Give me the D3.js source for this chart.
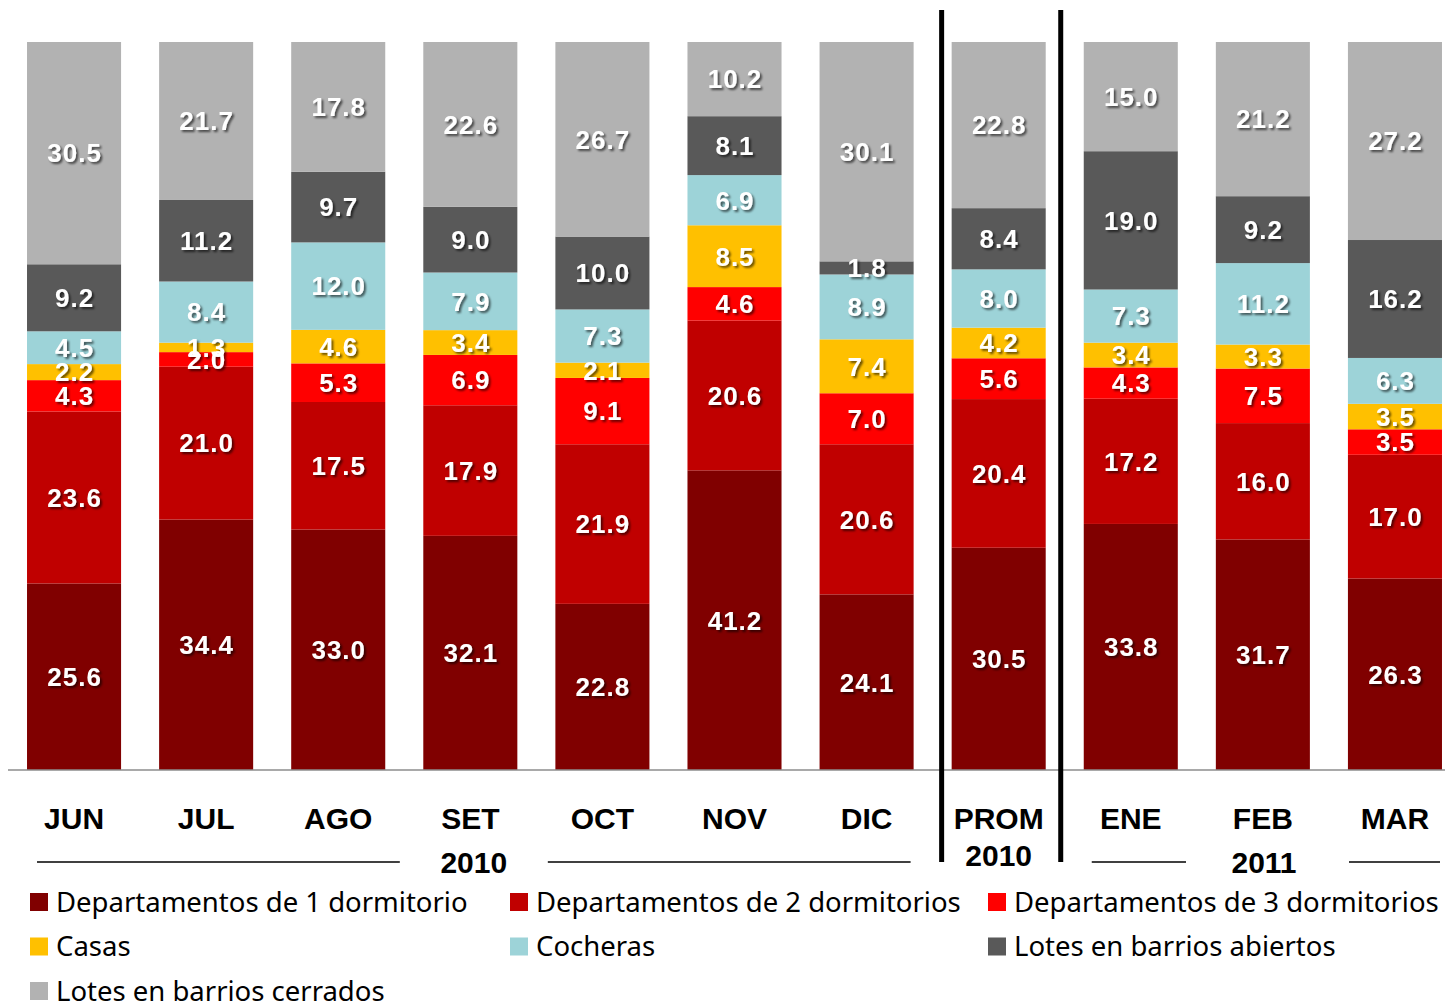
<!DOCTYPE html>
<html>
<head>
<meta charset="utf-8">
<script src="https://cdn.jsdelivr.net/npm/d3@7"></script>
<style>
  body { margin: 0; background: #fff; }
  svg { display: block; }
</style>
</head>
<body>
<script>
// categorías del eje
var categorias = ["JUN", "JUL", "AGO", "SET", "OCT", "NOV", "DIC", "PROM", "ENE", "FEB", "MAR"];
// segunda línea de la etiqueta (solo PROM)
var subEtiquetas = ["", "", "", "", "", "", "", "2010", "", "", ""];

// series (de abajo hacia arriba)
var series = [
  "Departamentos de 1 dormitorio",
  "Departamentos de 2 dormitorios",
  "Departamentos de 3 dormitorios",
  "Casas",
  "Cocheras",
  "Lotes en barrios abiertos",
  "Lotes en barrios cerrados"
];
var colores = ["#800000", "#C00000", "#FF0000", "#FFC000", "#9DD3D8", "#595959", "#B2B2B2"];

// valores en % por serie, un valor por categoría
var dep1     = [25.6, 34.4, 33.0, 32.1, 22.8, 41.2, 24.1, 30.5, 33.8, 31.7, 26.3];
var dep2     = [23.6, 21.0, 17.5, 17.9, 21.9, 20.6, 20.6, 20.4, 17.2, 16.0, 17.0];
var dep3     = [ 4.3,  2.0,  5.3,  6.9,  9.1,  4.6,  7.0,  5.6,  4.3,  7.5,  3.5];
var casas    = [ 2.2,  1.3,  4.6,  3.4,  2.1,  8.5,  7.4,  4.2,  3.4,  3.3,  3.5];
var cocheras = [ 4.5,  8.4, 12.0,  7.9,  7.3,  6.9,  8.9,  8.0,  7.3, 11.2,  6.3];
var abiertos = [ 9.2, 11.2,  9.7,  9.0, 10.0,  8.1,  1.8,  8.4, 19.0,  9.2, 16.2];
var cerrados = [30.5, 21.7, 17.8, 22.6, 26.7, 10.2, 30.1, 22.8, 15.0, 21.2, 27.2];
var valores = [dep1, dep2, dep3, casas, cocheras, abiertos, cerrados];

// grupos de años debajo del eje
var grupos = [
  { anio: "2010", desde: "JUN", hasta: "DIC" },
  { anio: "2011", desde: "ENE", hasta: "MAR" }
];
// separadores verticales a los lados de PROM
var separadores = ["PROM"];

var W = 1445, H = 1003;
var baseY = 770, topeY = 42;

var svg = d3.select("body").append("svg")
  .attr("width", W)
  .attr("height", H);

// sombra de los números
var defs = svg.append("defs");
var f = defs.append("filter").attr("id", "sombra")
  .attr("x", "-20%").attr("y", "-20%").attr("width", "150%").attr("height", "150%");
f.append("feDropShadow")
  .attr("dx", 2).attr("dy", 2).attr("stdDeviation", 1)
  .attr("flood-color", "#000").attr("flood-opacity", 0.6);

var x = d3.scaleBand()
  .domain(categorias)
  .range([8, 1461])
  .paddingInner(0.288)
  .paddingOuter(0.144);

var y = d3.scaleLinear()
  .domain([0, 100])
  .range([baseY, topeY]);

// filas para d3.stack (normalizado a 100%)
var filas = categorias.map(function(c, i){
  var fila = { cat: c };
  series.forEach(function(s, j){ fila[s] = valores[j][i]; });
  return fila;
});
var pila = d3.stack().keys(series).offset(d3.stackOffsetExpand)(filas);

var capas = svg.append("g").selectAll("g")
  .data(pila)
  .enter().append("g")
  .attr("fill", function(d, i){ return colores[i]; });

capas.selectAll("rect")
  .data(function(d){ return d; })
  .enter().append("rect")
  .attr("x", function(d){ return x(d.data.cat); })
  .attr("width", x.bandwidth())
  .attr("y", function(d){ return y(d[1] * 100); })
  .attr("height", function(d){ return y(d[0] * 100) - y(d[1] * 100); });

// etiquetas de valores
var etiquetas = svg.append("g")
  .attr("font-family", "Liberation Sans, Arial, sans-serif")
  .attr("font-weight", "bold")
  .attr("font-size", 26)
  .attr("letter-spacing", 1)
  .attr("fill", "#fff")
  .attr("text-anchor", "middle")
  .attr("filter", "url(#sombra)");

pila.forEach(function(capa, j){
  capa.forEach(function(d, i){
    etiquetas.append("text")
      .attr("x", x(d.data.cat) + x.bandwidth() / 2 + 0.5)
      .attr("y", (y(d[0] * 100) + y(d[1] * 100)) / 2)
      .attr("dy", "0.36em")
      .text(d3.format(".1f")(valores[j][i]));
  });
});

// línea base
svg.append("line")
  .attr("x1", 8).attr("x2", W)
  .attr("y1", baseY).attr("y2", baseY)
  .attr("stroke", "#8c8c8c")
  .attr("stroke-width", 1.5);

// etiquetas del eje
var ejeTxt = svg.append("g")
  .attr("font-family", "Liberation Sans, Arial, sans-serif")
  .attr("font-weight", "bold")
  .attr("font-size", 30)
  .attr("fill", "#000")
  .attr("text-anchor", "middle");

categorias.forEach(function(c, i){
  var cx = x(c) + x.bandwidth() / 2;
  ejeTxt.append("text").attr("x", cx).attr("y", 829).text(c);
  if(subEtiquetas[i]){
    ejeTxt.append("text").attr("x", cx).attr("y", 866).text(subEtiquetas[i]);
  }
});

// años con líneas a los lados
grupos.forEach(function(g){
  var x0 = x(g.desde) + 10;
  var x1 = x(g.hasta) + x.bandwidth() - 3;
  var cx = (x0 + x1) / 2;
  var medio = 74;
  if(g.anio === "2011"){ x0 = x(g.desde) + 8; cx = 1264; medio = 78; x1 = W - 5; }
  ejeTxt.append("text").attr("x", cx).attr("y", 873).text(g.anio);
  svg.append("line")
    .attr("x1", x0).attr("x2", cx - medio)
    .attr("y1", 862).attr("y2", 862)
    .attr("stroke", "#000").attr("stroke-width", 1.5);
  svg.append("line")
    .attr("x1", cx + medio + (g.anio === "2011" ? 7 : 0)).attr("x2", x1)
    .attr("y1", 862).attr("y2", 862)
    .attr("stroke", "#000").attr("stroke-width", 1.5);
});

// separadores verticales (algo desplazados hacia PROM, como en el original)
separadores.forEach(function(c){
  var paso = x.step();
  var izq = x(c) - (paso - x.bandwidth()) / 2 + 9;
  var der = x(c) - (paso - x.bandwidth()) / 2 + paso - 4;
  [izq, der].forEach(function(px){
    svg.append("line")
      .attr("x1", px).attr("x2", px)
      .attr("y1", 10).attr("y2", 862)
      .attr("stroke", "#000").attr("stroke-width", 5);
  });
});

// leyenda
var leyenda = svg.append("g")
  .attr("font-family", "Noto Sans, Open Sans, sans-serif")
  .attr("font-size", 27.5)
  .attr("fill", "#000");

var colX = [30, 510, 988];
series.forEach(function(s, i){
  var lx = colX[i % 3];
  var ly = 902 + Math.floor(i / 3) * 44.5;
  leyenda.append("rect")
    .attr("x", lx).attr("y", ly - 9)
    .attr("width", 18).attr("height", 18)
    .attr("fill", colores[i]);
  leyenda.append("text")
    .attr("x", lx + 26).attr("y", ly)
    .attr("dy", "0.35em")
    .text(s);
});
</script>
</body>
</html>
